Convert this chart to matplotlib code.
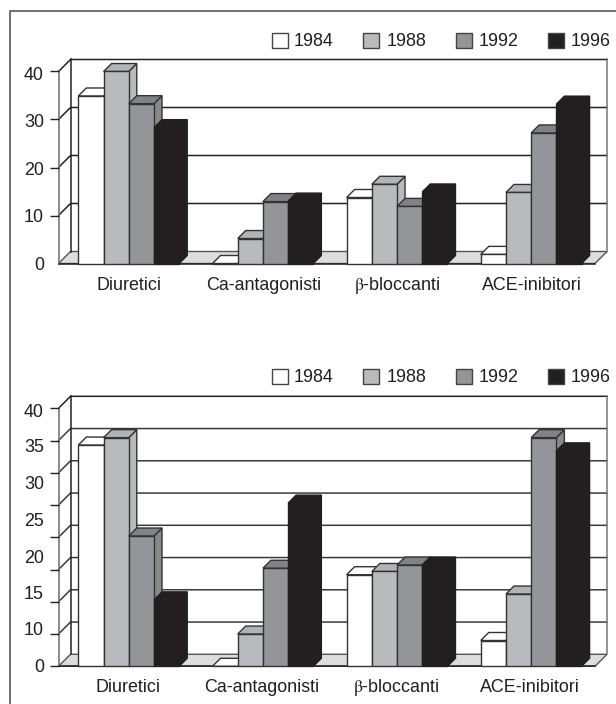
import matplotlib
matplotlib.use('Agg')
import matplotlib.pyplot as plt
from matplotlib.patches import Polygon, Rectangle

plt.rcParams['font.family'] = ['Liberation Sans', 'DejaVu Sans']
plt.rcParams['mathtext.fontset'] = 'stix'
FS = 12.9

# dati
categorie = ['Diuretici', 'Ca-antagonisti', r'$\mathrm{\beta}$-bloccanti', 'ACE-inibitori']
anni = ['1984', '1988', '1992', '1996']

alto_1984 = [34.9, 0, 13.75, 1.9]
alto_1988 = [40, 5.2, 16.5, 14.8]
alto_1992 = [33.3, 12.9, 11.9, 27.2]
alto_1996 = [28.3, 13, 14.9, 33.2]

basso_1984 = [34.3, 0, 14.2, 4]
basso_1988 = [35.45, 5, 14.7, 11.2]
basso_1992 = [20.2, 15.2, 15.7, 35.45]
basso_1996 = [10.3, 25.3, 15.7, 33.4]

alto_tick = [0, 10, 20, 30, 40]
alto_lab = ['0', '10', '20', '30', '40']
alto_lab_pos = [0, 9.9, 19.8, 29.7, 39.6]

# nel grafico in basso le etichette non stanno sulle tacche
basso_tick = [0, 5, 10, 15, 20, 25, 30, 35, 40]
basso_lab = ['0', '10', '15', '20', '25', '30', '35', '40']
basso_lab_pos = [0.2, 5.8, 11.4, 17, 22.8, 28.5, 34.2, 39.6]

colori = ['white', '#b9babd', '#939598', '#231f20']
colori_top = ['white', '#b2b3b6', '#808285', '#231f20']
colori_lato = ['white', '#b9babd', '#87898b', '#231f20']
bordi = ['#333333', '#333333', '#333333', '#231f20']

W, H = 616, 704
fig = plt.figure(figsize=(W / 100, H / 100), dpi=100)

# cornice e legende in pixel
bg = fig.add_axes([0, 0, 1, 1])
bg.set_xlim(0, W)
bg.set_ylim(H, 0)
bg.axis('off')
bg.plot([9.5, 9.5, W], [H, 11, 11], color='#555555', lw=1.2)


def legenda(y):
    for anno, c, x, xt in zip(anni, colori, [272, 363, 456, 548], [294, 387, 479, 571]):
        bg.add_patch(Rectangle((x, y - 7.5), 15.5, 15, fc=c, ec='#444444', lw=1))
        bg.text(xt, y + 1, anno, fontsize=FS, va='center', ha='left', color='#231f20')


def grafico(y0, y40, serie, tick, lab, lab_pos, xlab, col_griglia):
    ax = fig.add_axes([58.5 / W, 1 - y0 / H, (595 - 58.5) / W, (y0 - y40) / H])
    ax.set_xlim(0, 4)
    ax.set_ylim(0, 40)
    ax.patch.set_visible(False)
    for s in ax.spines.values():
        s.set_visible(False)

    # profondita' in unita' dati
    px_x = 4 / (595 - 58.5)
    px_y = 40 / (y0 - y40)
    dx, dy = 12 * px_x, 12 * px_y
    bx, by = 8 * px_x, 8 * px_y
    nero = '#222222'

    # sfondo sotto le barre
    ax.add_patch(Polygon([(0, 0), (dx, dy), (4 + dx, dy), (4, 0)], fc='#dcddde', ec='#555555', lw=1,
                         clip_on=False, zorder=0.5))
    for v in tick:
        if 0 < v < 40:
            ax.plot([0, dx, 4 + dx], [v, v + dy, v + dy], color=col_griglia, lw=1.1, clip_on=False, zorder=0.6)
    ax.plot([0, dx, 4 + dx], [40, 40 + dy, 40 + dy], color=nero, lw=1.1, clip_on=False, zorder=0.6)
    ax.plot([dx, dx], [dy, 40 + dy], color=nero, lw=1.1, clip_on=False, zorder=0.6)
    ax.plot([4 + dx, 4 + dx], [dy, 40 + dy], color='#777777', lw=1.1, clip_on=False, zorder=0.6)
    ax.plot([0, 0], [0, 40], color='#777777', lw=1.2, clip_on=False, zorder=0.6)
    ax.plot([0, 4], [0, 0], color=nero, lw=1.1, clip_on=False, zorder=0.6)

    larg = 0.188
    z = 1
    for g in range(4):
        for k in range(4):
            x = g + 0.148 + k * larg
            v = serie[k][g]
            ax.add_patch(Polygon([(x + larg, 0), (x + larg + bx, by), (x + larg + bx, v + by), (x + larg, v)],
                                 fc=colori_lato[k], ec=bordi[k], lw=1, clip_on=False, zorder=z))
            ax.add_patch(Polygon([(x, v), (x + bx, v + by), (x + larg + bx, v + by), (x + larg, v)],
                                 fc=colori_top[k], ec=bordi[k], lw=1, clip_on=False, zorder=z))
            ax.bar(x, v, larg, align='edge', color=colori[k], edgecolor=bordi[k], lw=1, clip_on=False, zorder=z)
            z += 0.01

    ax.set_yticks(tick, minor=True)
    ax.set_yticks(lab_pos, lab)
    ax.tick_params(axis='y', which='minor', length=6.5, width=1, color=nero)
    ax.tick_params(axis='y', which='major', length=0, pad=10.5, labelsize=FS, labelcolor='#231f20')
    ax.set_xticks([i + xlab for i in range(4)], categorie)
    ax.tick_params(axis='x', length=0, pad=18.8, labelsize=FS, labelcolor='#231f20')
    for t in ax.get_xticklabels():
        t.set_verticalalignment('baseline')


legenda(40)
grafico(263.5, 71.5, [alto_1984, alto_1988, alto_1992, alto_1996], alto_tick, alto_lab, alto_lab_pos, 0.527, '#222222')
legenda(376)
grafico(666.3, 408.3, [basso_1984, basso_1988, basso_1992, basso_1996], basso_tick, basso_lab, basso_lab_pos, 0.518, '#3a3a3a')

fig.savefig('out.png', dpi=100)
